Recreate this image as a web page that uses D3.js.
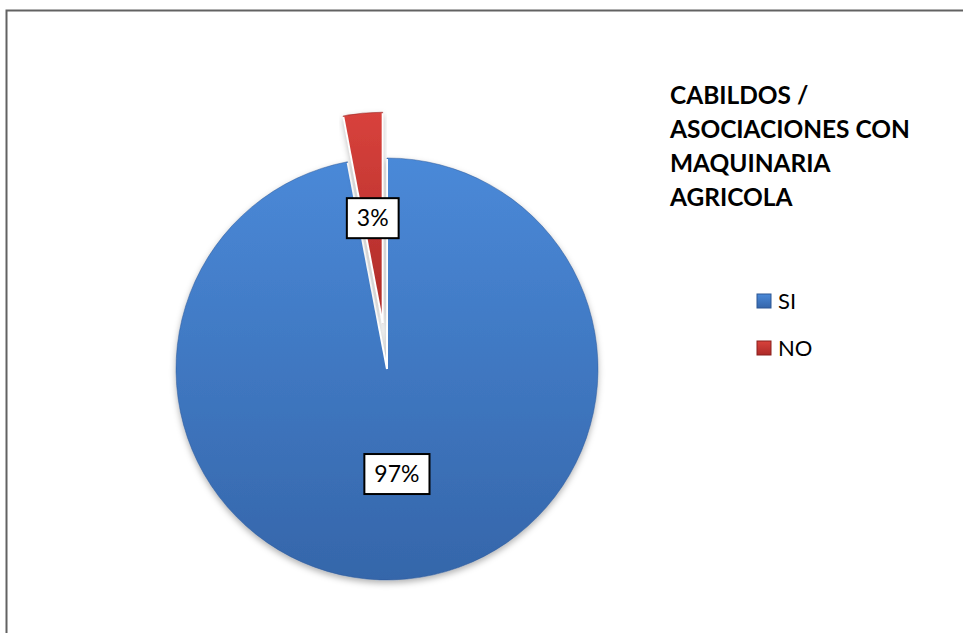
<!DOCTYPE html>
<html>
<head>
<meta charset="utf-8">
<script src="https://cdn.jsdelivr.net/npm/d3@7/dist/d3.min.js"></script>
<style>
  html, body { margin: 0; padding: 0; background: #fff; }
  svg { display: block; }
</style>
</head>
<body>
<div id="chart"></div>
<script>
// Pie: cabildos / asociaciones with farm machinery, SI vs NO.
const categories = ["SI", "NO"];
const values = [97, 3];
const labels = ["97%", "3%"];
const titleLines = ["CABILDOS /", "ASOCIACIONES CON", "MAQUINARIA", "AGRICOLA"];

const W = 963, H = 633;
const cx = 387, cy = 369, R = 211;
const EXPLODE = 46; // the NO wedge is pulled out of the pie

const colors = d3.scaleOrdinal(categories, [
  { top: "#4a89d8", bot: "#3566aa", edge: "#2c5794" },
  { top: "#d8423c", bot: "#ad2a28", edge: "#8a201e" }
]);

const svg = d3.select("#chart").append("svg")
  .attr("width", W).attr("height", H)
  .attr("viewBox", `0 0 ${W} ${H}`);

const defs = svg.append("defs");
categories.forEach((c, i) => {
  const col = colors(c);
  const gr = defs.append("linearGradient").attr("id", `grad${i}`)
    .attr("x1", 0).attr("y1", 0).attr("x2", 0).attr("y2", 1);
  gr.append("stop").attr("offset", "0%").attr("stop-color", col.top);
  gr.append("stop").attr("offset", "100%").attr("stop-color", col.bot);
});
const sh = defs.append("filter").attr("id", "shadow")
  .attr("x", "-10%").attr("y", "-10%").attr("width", "120%").attr("height", "125%");
sh.append("feDropShadow").attr("dx", 0).attr("dy", 3).attr("stdDeviation", 3)
  .attr("flood-color", "#000").attr("flood-opacity", 0.3);

// chart frame (runs off the right and bottom of the picture)
svg.append("rect").attr("x", 6.5).attr("y", 10.5)
  .attr("width", W + 20).attr("height", H + 20)
  .attr("fill", "none").attr("stroke", "#626262").attr("stroke-width", 2);

const pie = d3.pie().sort(null).value((d) => d.v);
const arcs = pie(categories.map((c, i) => ({ c, v: values[i], label: labels[i] })));
const arc = d3.arc().innerRadius(0).outerRadius(R);

const offsetOf = (d, i) => {
  if (i === 0) return [0, 0];
  const a = (d.startAngle + d.endAngle) / 2;
  return [Math.sin(a) * EXPLODE, -Math.cos(a) * EXPLODE];
};
const shift = (d, i) => { const [dx, dy] = offsetOf(d, i); return `translate(${dx},${dy})`; };

const g = svg.append("g").attr("transform", `translate(${cx},${cy})`);

const slices = g.selectAll("g.slice").data(arcs).join("g")
  .attr("class", "slice").attr("transform", shift);

slices.append("path")
  .attr("d", arc)
  .attr("fill", (d, i) => `url(#grad${i})`)
  .attr("stroke", (d) => colors(d.data.c).edge).attr("stroke-width", 0.8).attr("stroke-opacity", 0.6)
  .attr("filter", "url(#shadow)");

// white bevel along the straight edges of each wedge
slices.each(function (d) {
  const sel = d3.select(this);
  [d.startAngle, d.endAngle].forEach((a) => {
    const [x2, y2] = d3.pointRadial(a, R - 1);
    sel.append("line").attr("x1", 0).attr("y1", 0).attr("x2", x2).attr("y2", y2)
      .attr("stroke", "#fff").attr("stroke-width", 2).attr("stroke-linecap", "butt");
  });
});

// data labels in white boxes at the wedge centroids
const lab = g.selectAll("g.lab").data(arcs).join("g").attr("class", "lab")
  .attr("transform", (d, i) => {
    const [dx, dy] = offsetOf(d, i);
    const [lx, ly] = arc.centroid(d);
    return `translate(${lx + dx},${ly + dy})`;
  });
lab.append("rect");
lab.append("text")
  .attr("text-anchor", "middle").attr("dy", "0.36em")
  .style("font-family", "Lato, 'Open Sans', sans-serif").style("font-size", "23px")
  .attr("fill", "#000")
  .text((d) => d.data.label);
lab.each(function () {
  const t = d3.select(this).select("text").node();
  const w = t.getComputedTextLength() + 20;
  d3.select(this).select("rect")
    .attr("x", -w / 2).attr("y", -20).attr("width", w).attr("height", 40)
    .attr("fill", "#fff").attr("stroke", "#000").attr("stroke-width", 2);
});

// title, bold, fitted to the reference width
const title = svg.append("text")
  .style("font-family", "Lato, 'Open Sans', sans-serif").style("font-weight", "bold")
  .style("font-size", "24px").attr("fill", "#000");
title.selectAll("tspan").data(titleLines).join("tspan")
  .attr("x", 670).attr("y", (d, i) => 104 + i * 34).text((d) => d);
const widest = d3.max(title.selectAll("tspan").nodes(), (n) => n.getComputedTextLength());
title.style("font-size", `${24 * 240 / widest}px`);

// legend
const legY = d3.scalePoint(categories, [301, 348]);
const leg = svg.append("g").selectAll("g").data(categories).join("g")
  .attr("transform", (c) => `translate(757,${legY(c)})`);
leg.append("rect")
  .attr("x", 0).attr("y", -7).attr("width", 14).attr("height", 14)
  .attr("fill", (c, i) => `url(#grad${i})`)
  .attr("stroke", (c) => colors(c).edge).attr("stroke-width", 1);
leg.append("text")
  .attr("x", 21).attr("dy", "0.36em")
  .style("font-family", "Lato, 'Open Sans', sans-serif").style("font-size", "22px")
  .attr("fill", "#000")
  .text((c) => c);
</script>
</body>
</html>
